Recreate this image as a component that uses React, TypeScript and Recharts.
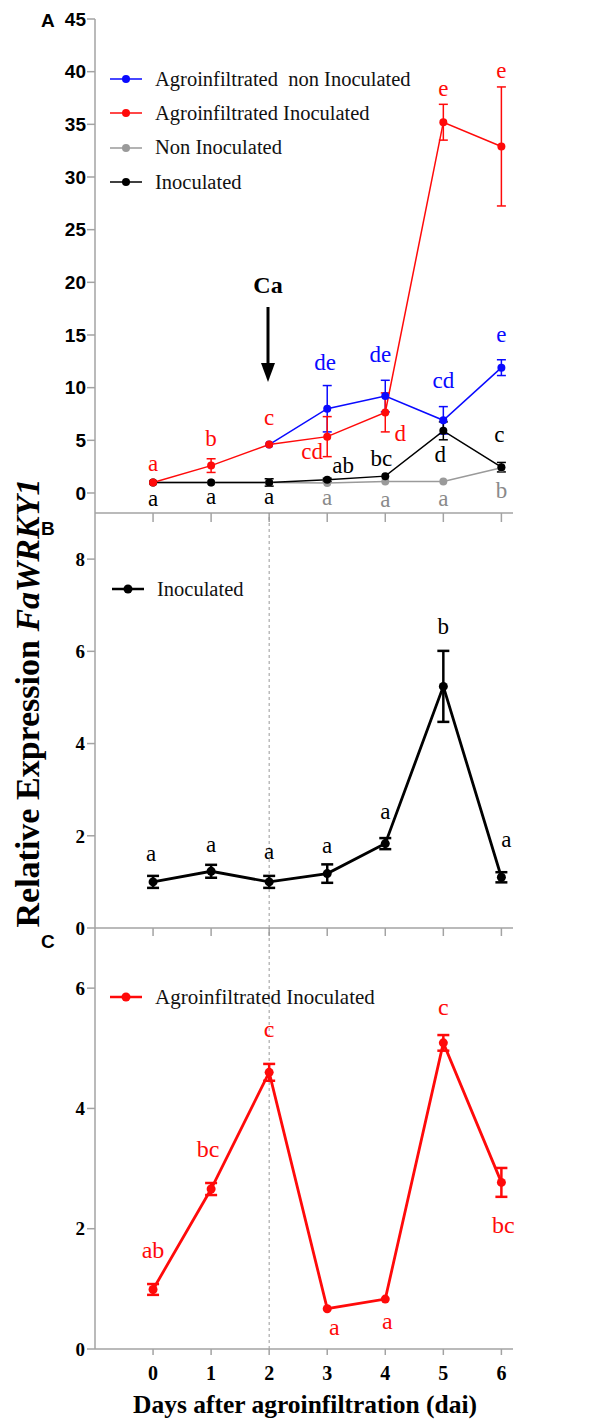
import React from 'react'
import { LineChart, Line, XAxis, YAxis, ErrorBar, ReferenceLine, Legend } from 'recharts'

const DAYS = [0, 1, 2, 3, 4, 5, 6]

// Panel A - four treatments
const A_NAMES = ['Agroinfiltrated  non Inoculated', 'Agroinfiltrated Inoculated', 'Non Inoculated', 'Inoculated']
const A_BLUE = [null, null, 4.6, 8.0, 9.2, 6.9, 11.9]
const A_BLUE_ERR = [null, null, null, 2.2, 1.5, 1.3, 0.75]
const A_BLUE_LETTERS = ['', '', '', 'de', 'de', 'cd', 'e']
const A_RED = [1.0, 2.6, 4.6, 5.35, 7.65, 35.2, 32.9]
const A_RED_ERR = [null, 0.65, null, 1.9, 1.85, 1.7, 5.65]
const A_RED_LETTERS = ['a', 'b', 'c', 'cd', 'd', 'e', 'e']
const A_GRAY = [1.0, 1.0, 1.0, 0.95, 1.1, 1.1, 2.4]
const A_GRAY_LETTERS = ['', '', '', 'a', 'a', 'a', 'b']
const A_BLACK = [1.0, 1.0, 1.0, 1.25, 1.6, 5.9, 2.45]
const A_BLACK_ERR = [null, null, 0.35, 0.15, null, 0.85, 0.45]
const A_BLACK_LETTERS = ['a', 'a', 'a', 'ab', 'bc', 'd', 'c']

// Panel B - Inoculated
const B_VALUES = [1.0, 1.23, 1.0, 1.18, 1.83, 5.24, 1.1]
const B_ERR = [0.13, 0.14, 0.13, 0.2, 0.12, 0.77, 0.11]
const B_LETTERS = ['a', 'a', 'a', 'a', 'a', 'b', 'a']

// Panel C - Agroinfiltrated Inoculated
const C_VALUES = [0.99, 2.66, 4.6, 0.67, 0.83, 5.09, 2.77]
const C_ERR = [0.09, 0.1, 0.14, null, null, 0.13, 0.24]
const C_LETTERS = ['ab', 'bc', 'c', 'a', 'a', 'c', 'bc']

const A_TICKS = [0, 5, 10, 15, 20, 25, 30, 35, 40, 45]
const B_TICKS = [0, 2, 4, 6, 8]
const C_TICKS = [0, 2, 4, 6]

// letter placement, px from the point
const A_BLUE_POS = [[0, 0], [0, 0], [0, 0], [-2, -46], [-5, -42], [0, -40], [0, -33]]
const A_RED_POS = [[0, -19], [0, -27], [0, -27], [-15, 15], [15, 21], [0, -34], [0, -76]]
const A_GRAY_POS = [[0, 0], [0, 0], [0, 0], [0, 15], [0, 18], [0, 17], [0, 23]]
const A_BLACK_POS = [[0, 16], [0, 14], [0, 14], [16, -14], [-4, -18], [-3, 24], [-2, -33]]
const B_POS = [[-2, -28], [0, -27], [0, -30], [0, -28], [0, -32], [0, -60], [5, -38]]
const C_POS = [[0, -39], [-3, -40], [0, -43], [7, 18], [2, 22], [0, -36], [2, 43]]

const SERIF = '"Liberation Serif", "Times New Roman", serif'
const SANS = '"Liberation Sans", Arial, sans-serif'
const AXIS = '#a3a3a3'
const BLUE = '#0a0aff'
const RED = '#ff0a0a'
const GRAY = '#9a9a9a'
const BLACK = '#000'
const X_DOMAIN = [-1, 6.2]

const rowsA = DAYS.map((d, i) => ({
  day: d,
  blue: A_BLUE[i], blueErr: A_BLUE_ERR[i],
  red: A_RED[i], redErr: A_RED_ERR[i],
  gray: A_GRAY[i],
  black: A_BLACK[i], blackErr: A_BLACK_ERR[i],
}))
const rowsB = DAYS.map((d, i) => ({ day: d, v: B_VALUES[i], err: B_ERR[i] }))
const rowsC = DAYS.map((d, i) => ({ day: d, v: C_VALUES[i], err: C_ERR[i] }))

function makeDot(color: string, r: number, letters: string[], pos: number[][], fontSize: number, letterColor?: string) {
  return (props: any) => {
    const { cx, cy, index } = props
    if (cx == null || cy == null || Number.isNaN(cy)) return <g key={`n${index}`} />
    const txt = letters[index]
    const [dx, dy] = pos[index] || [0, 0]
    return (
      <g key={`d${index}`}>
        <circle cx={cx} cy={cy} r={r} fill={color} />
        {txt ? (
          <text x={cx + dx} y={cy + dy} textAnchor="middle" dominantBaseline="central"
            fontFamily={SERIF} fontSize={fontSize} fill={letterColor || color}>{txt}</text>
        ) : null}
      </g>
    )
  }
}

const legendRow = (name: string, color: string, lw: number, r: number, key: number, h: number) => (
  <div key={key} style={{ display: 'flex', alignItems: 'center', height: h }}>
    <svg width={32} height={12}>
      <line x1={0} y1={6} x2={32} y2={6} stroke={color} strokeWidth={lw} />
      <circle cx={16} cy={6} r={r} fill={color} />
    </svg>
    <span style={{ marginLeft: 13, whiteSpace: 'pre', color: '#111' }}>{name}</span>
  </div>
)

const xTickHidden = () => ''

function PanelA() {
  const colors = [BLUE, RED, GRAY, BLACK]
  return (
    <LineChart width={589} height={540} data={rowsA} margin={{ top: 19, right: 76, left: 0, bottom: 0 }}>
      <XAxis dataKey="day" type="number" domain={X_DOMAIN} ticks={DAYS} height={27}
        stroke={AXIS} strokeWidth={1.5} tickSize={9} tickFormatter={xTickHidden} />
      <YAxis type="number" domain={[-1.9, 45]} ticks={A_TICKS} width={95} stroke={AXIS} strokeWidth={1.5}
        tickSize={8} tickMargin={1} interval={0}
        tick={{ fontFamily: SANS, fontWeight: 'bold', fontSize: 19, fill: '#000' }} />
      <Legend layout="vertical" align="center" verticalAlign="middle"
        wrapperStyle={{ left: 110, top: 62, width: 440 }}
        content={() => (
          <div style={{ fontFamily: SERIF, fontSize: 20.5 }}>
            {A_NAMES.map((n, i) => legendRow(n, colors[i], 1.5, 4, i, 34.3))}
          </div>
        )} />
      <Line dataKey="gray" stroke={GRAY} strokeWidth={1.5} isAnimationActive={false}
        dot={makeDot(GRAY, 4, A_GRAY_LETTERS, A_GRAY_POS, 23, '#8a8a8a')} />
      <Line dataKey="blue" stroke={BLUE} strokeWidth={1.5} isAnimationActive={false}
        dot={makeDot(BLUE, 4, A_BLUE_LETTERS, A_BLUE_POS, 23)}>
        <ErrorBar dataKey="blueErr" direction="y" width={4.5} stroke={BLUE} strokeWidth={1.5} />
      </Line>
      <Line dataKey="black" stroke={BLACK} strokeWidth={1.5} isAnimationActive={false}
        dot={makeDot(BLACK, 4, A_BLACK_LETTERS, A_BLACK_POS, 23)}>
        <ErrorBar dataKey="blackErr" direction="y" width={4.5} stroke={BLACK} strokeWidth={1.5} />
      </Line>
      <Line dataKey="red" stroke={RED} strokeWidth={1.5} isAnimationActive={false}
        dot={makeDot(RED, 4, A_RED_LETTERS, A_RED_POS, 23)}>
        <ErrorBar dataKey="redErr" direction="y" width={4.5} stroke={RED} strokeWidth={1.5} />
      </Line>
    </LineChart>
  )
}

function PanelB() {
  return (
    <LineChart width={589} height={455} data={rowsB} margin={{ top: 13, right: 76, left: 0, bottom: 0 }}>
      <XAxis dataKey="day" type="number" domain={X_DOMAIN} ticks={DAYS} height={27}
        stroke={AXIS} strokeWidth={1.5} tickSize={8} tickFormatter={xTickHidden} />
      <YAxis type="number" domain={[0, 9]} ticks={B_TICKS} width={95} stroke={AXIS} strokeWidth={1.5}
        tickSize={8} tickMargin={2} interval={0}
        tick={{ fontFamily: SERIF, fontWeight: 'bold', fontSize: 19, fill: '#000' }} />
      <ReferenceLine x={2} stroke="#9a9a9a" strokeDasharray="3 3" strokeWidth={1} />
      <Legend layout="vertical" align="center" verticalAlign="middle"
        wrapperStyle={{ left: 112, top: 72, width: 300 }}
        content={() => (
          <div style={{ fontFamily: SERIF, fontSize: 20.5 }}>
            {legendRow('Inoculated', BLACK, 2.5, 4.5, 0, 34)}
          </div>
        )} />
      <Line dataKey="v" stroke={BLACK} strokeWidth={2.8} isAnimationActive={false}
        dot={makeDot(BLACK, 4.5, B_LETTERS, B_POS, 23)}>
        <ErrorBar dataKey="err" direction="y" width={6} stroke={BLACK} strokeWidth={2.5} />
      </Line>
    </LineChart>
  )
}

function PanelC() {
  return (
    <LineChart width={589} height={474} data={rowsC} margin={{ top: 13, right: 76, left: 0, bottom: 0 }}>
      <XAxis dataKey="day" type="number" domain={X_DOMAIN} ticks={DAYS} height={40}
        stroke={AXIS} strokeWidth={1.5} tickSize={6} tickMargin={11} interval={0}
        tick={{ fontFamily: SERIF, fontWeight: 'bold', fontSize: 20, fill: '#000' }} />
      <YAxis type="number" domain={[0, 7]} ticks={C_TICKS} width={95} stroke={AXIS} strokeWidth={1.5}
        tickSize={8} tickMargin={2} interval={0}
        tick={{ fontFamily: SERIF, fontWeight: 'bold', fontSize: 19, fill: '#000' }} />
      <ReferenceLine x={2} stroke="#9a9a9a" strokeDasharray="3 3" strokeWidth={1} />
      <Legend layout="vertical" align="center" verticalAlign="middle"
        wrapperStyle={{ left: 110, top: 65, width: 340 }}
        content={() => (
          <div style={{ fontFamily: SERIF, fontSize: 21 }}>
            {legendRow('Agroinfiltrated Inoculated', RED, 2.5, 4.5, 0, 34)}
          </div>
        )} />
      <Line dataKey="v" stroke={RED} strokeWidth={2.8} isAnimationActive={false}
        dot={makeDot(RED, 4.5, C_LETTERS, C_POS, 24)}>
        <ErrorBar dataKey="err" direction="y" width={6} stroke={RED} strokeWidth={2.5} />
      </Line>
    </LineChart>
  )
}

export default function App() {
  return (
    <div style={{ position: 'absolute', left: 0, top: 0, width: 589, height: 1421, background: '#fff' }}>
      <div style={{ position: 'absolute', left: 0, top: 0 }}><PanelA /></div>
      <div style={{ position: 'absolute', left: 0, top: 500 }}><PanelB /></div>
      <div style={{ position: 'absolute', left: 0, top: 915 }}><PanelC /></div>
      <svg width={589} height={1421} style={{ position: 'absolute', left: 0, top: 0, pointerEvents: 'none' }}>
        <g fontFamily={SANS} fontWeight="bold" fontSize={19}>
          <text x={41} y={27}>A</text>
          <text x={41} y={535}>B</text>
          <text x={41} y={948}>C</text>
        </g>
        {/* calcium treatment marker */}
        <text x={268} y={293} textAnchor="middle" fontFamily={SERIF} fontWeight="bold" fontSize={24}>Ca</text>
        <line x1={268} y1={307} x2={268} y2={366} stroke="#000" strokeWidth={3} />
        <polygon points="261,363 275,363 268,382" fill="#000" />
        <text transform="translate(27,703) rotate(-90)" textAnchor="middle" dominantBaseline="central"
          fontFamily={SERIF} fontWeight="bold" fontSize={34}>
          Relative Expression <tspan fontStyle="italic">FaWRKY1</tspan>
        </text>
        <text x={305} y={1413} textAnchor="middle" fontFamily={SERIF} fontWeight="bold" fontSize={25.5}>
          Days after agroinfiltration (dai)
        </text>
      </svg>
    </div>
  )
}
